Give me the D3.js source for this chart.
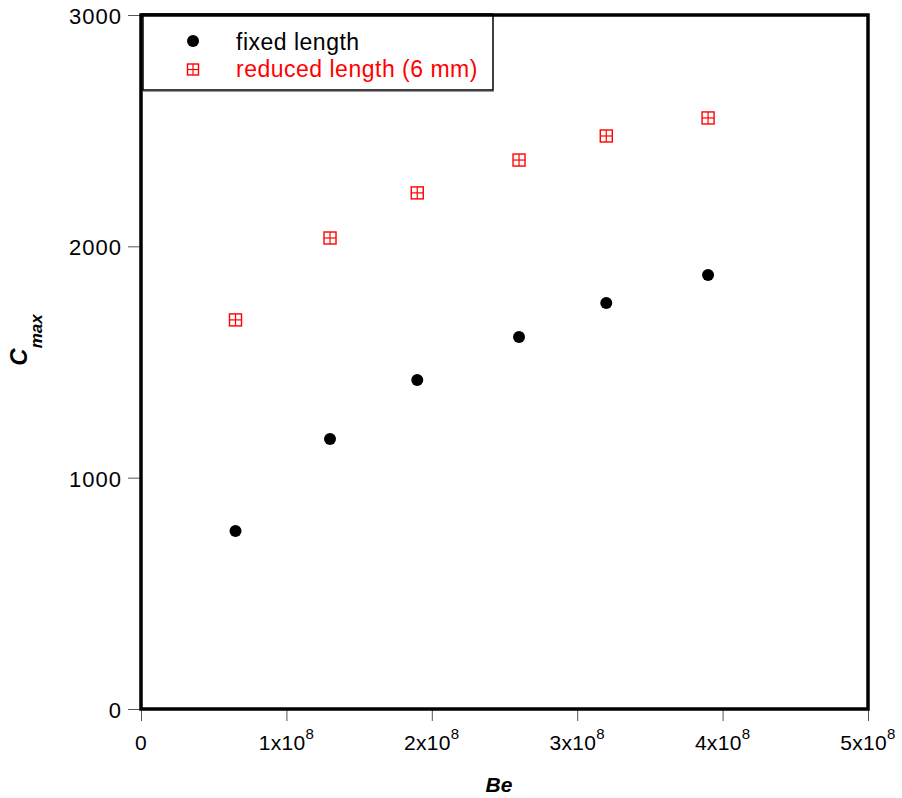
<!DOCTYPE html>
<html><head><meta charset="utf-8">
<script src="https://cdn.jsdelivr.net/npm/d3@7"></script>
<style>body{margin:0;background:#fff}svg{display:block;font-family:"Liberation Sans",Arial,sans-serif}</style>
</head><body><svg id="c" width="902" height="798"></svg>
<script>
const beValues = [0.65e8, 1.3e8, 1.9e8, 2.6e8, 3.2e8, 3.9e8];
const fixedLength = [769, 1167, 1422, 1608, 1755, 1876];
const reducedLength = [1682, 2036, 2231, 2373, 2477, 2555];
const xTicks = [0, 1e8, 2e8, 3e8, 4e8, 5e8];
const yTicks = [0, 1000, 2000, 3000];
const legendLabels = ["fixed length", "reduced length (6 mm)"];

const svg = d3.select("#c");
const L = 141, R = 868, T = 15, B = 709;
const x = d3.scaleLinear().domain([0, 5e8]).range([L, R]);
const y = d3.scaleLinear().domain([0, 3000]).range([B, T]);

// axes
const xAxis = svg.append("g").attr("transform", `translate(0,${B})`)
  .call(d3.axisBottom(x).tickValues(xTicks).tickSize(12).tickFormat(""));
const yAxis = svg.append("g").attr("transform", `translate(${L},0)`)
  .call(d3.axisLeft(y).tickValues(yTicks).tickSize(13).tickFormat(""));
[xAxis, yAxis].forEach(a => {
  a.select(".domain").remove();
  a.selectAll(".tick line").attr("stroke", "#555").attr("stroke-width", 1);
});

// x tick labels with superscripts
xTicks.forEach(v => {
  const t = svg.append("text").attr("x", x(v)).attr("y", 750)
    .attr("text-anchor", "middle").attr("font-size", 21).attr("letter-spacing", 0.3).attr("fill", "#000");
  if (v === 0) { t.text("0"); }
  else {
    t.append("tspan").text(`${v / 1e8}x10`);
    t.append("tspan").attr("dy", -11).attr("font-size", 15).text("8");
  }
});
// y tick labels
yTicks.forEach(v => {
  svg.append("text").attr("x", 122).attr("y", y(v) + 9)
    .attr("text-anchor", "end").attr("font-size", 22).attr("letter-spacing", 1).attr("fill", "#000").text(v);
});

// axis titles
svg.append("text").attr("x", 499).attr("y", 792).attr("text-anchor", "middle")
  .attr("font-size", 21).attr("font-weight", "bold").attr("font-style", "italic").text("Be");
const yt = svg.append("text").attr("transform", "translate(27,340) rotate(-90)")
  .attr("text-anchor", "middle").attr("font-weight", "bold").attr("font-style", "italic");
yt.append("tspan").attr("font-size", 24).text("C");
yt.append("tspan").attr("font-size", 17).attr("dy", 15).text("max");

// frame
svg.append("rect").attr("x", L).attr("y", T).attr("width", R - L).attr("height", B - T)
  .attr("fill", "none").attr("stroke", "#000").attr("stroke-width", 3.5);

// data
svg.append("g").selectAll("circle").data(beValues).join("circle")
  .attr("cx", d => x(d)).attr("cy", (d, i) => y(fixedLength[i])).attr("r", 6).attr("fill", "#000");

function crossSquare(g, cx, cy, s) {
  g.append("rect").attr("x", cx - s / 2).attr("y", cy - s / 2).attr("width", s).attr("height", s)
    .attr("fill", "none").attr("stroke", "#f00").attr("stroke-width", 1.4);
  g.append("line").attr("x1", cx - s / 2).attr("x2", cx + s / 2).attr("y1", cy).attr("y2", cy)
    .attr("stroke", "#f00").attr("stroke-width", 1.2);
  g.append("line").attr("y1", cy - s / 2).attr("y2", cy + s / 2).attr("x1", cx).attr("x2", cx)
    .attr("stroke", "#f00").attr("stroke-width", 1.2);
}
const rg = svg.append("g");
beValues.forEach((d, i) => crossSquare(rg, x(d), y(reducedLength[i]), 12));

// legend
const lg = svg.append("g");
lg.append("rect").attr("x", 143).attr("y", 15).attr("width", 350).attr("height", 75)
  .attr("fill", "#fff").attr("stroke", "#000").attr("stroke-width", 1.5);
lg.append("line").attr("x1", 143).attr("x2", 494).attr("y1", 91.5).attr("y2", 91.5)
  .attr("stroke", "#999").attr("stroke-width", 1);
lg.append("line").attr("x1", L).attr("x2", 493).attr("y1", T).attr("y2", T)
  .attr("stroke", "#000").attr("stroke-width", 3.5);
lg.append("circle").attr("cx", 193).attr("cy", 41).attr("r", 6).attr("fill", "#000");
crossSquare(lg, 193, 69.5, 11);
lg.append("text").attr("x", 236).attr("y", 50).attr("font-size", 23).attr("letter-spacing", 0.5).attr("fill", "#000").text(legendLabels[0]);
lg.append("text").attr("x", 236).attr("y", 77).attr("font-size", 23).attr("letter-spacing", 0.5).attr("fill", "#f00").text(legendLabels[1]);
</script></body></html>
